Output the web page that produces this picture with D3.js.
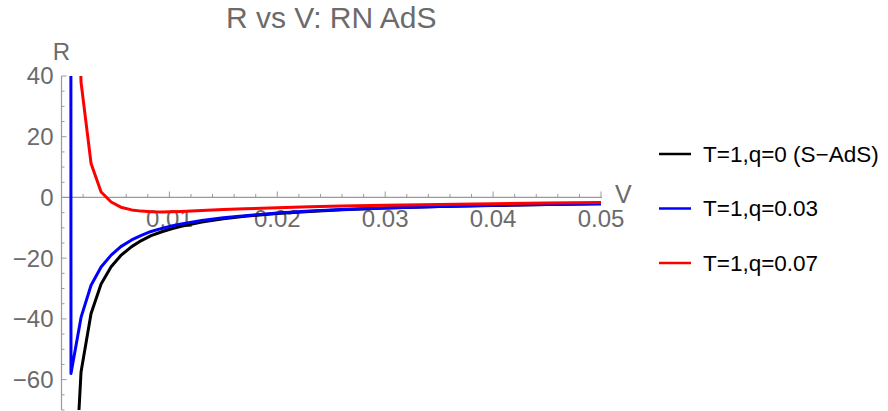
<!DOCTYPE html>
<html>
<head>
<meta charset="utf-8">
<script src="https://cdn.jsdelivr.net/npm/d3@7/dist/d3.min.js"></script>
<style>
  body { margin: 0; background: #fff; }
  svg { display: block; font-family: "Liberation Sans", Arial, sans-serif; }
</style>
</head>
<body>
<svg id="chart" width="888" height="411"></svg>
<script>
// sample volumes shared by all three curves
const volumes = [0.0004, 0.00088, 0.00181, 0.00274, 0.00367, 0.0046, 0.0055, 0.0065, 0.0074, 0.0083,
  0.0093, 0.0102, 0.0111, 0.013, 0.015, 0.017, 0.02, 0.023, 0.026, 0.03, 0.035, 0.04, 0.045, 0.05];

// R values (points outside the frame are estimates)
const rQ0 = [-262, -119, -57.5, -38.2, -28.5, -22.8, -19.1, -16.2, -14.2, -12.6,
  -11.3, -10.3, -9.5, -8.1, -7.0, -6.2, -5.3, -4.6, -4.05, -3.5, -3.0, -2.65, -2.35, -2.1];
const rQ003 = [5000, -58, -39.5, -28.9, -22.9, -19.0, -16.2, -14.0, -12.5, -11.2,
  -10.2, -9.4, -8.7, -7.6, -6.7, -6.0, -5.1, -4.5, -4.0, -3.45, -2.95, -2.6, -2.3, -2.05];
const rQ007 = [800, 160, 38, 11.2, 1.8, -1.5, -3.2, -4.1, -4.5, -4.7,
  -4.75, -4.7, -4.6, -4.3, -4.0, -3.75, -3.4, -3.1, -2.85, -2.6, -2.3, -2.05, -1.85, -1.65];

const seriesNames = ["T=1,q=0 (S\u2212AdS)", "T=1,q=0.03", "T=1,q=0.07"];
const seriesColors = ["#000000", "#0000ff", "#ff0000"];

const xTickLabels = ["0.01", "0.02", "0.03", "0.04", "0.05"];
const yTickLabels = ["40", "20", "0", "\u221220", "\u221240", "\u221260"];

const svg = d3.select("#chart");

// plot frame
const x = d3.scaleLinear().domain([0, 0.05]).range([61.5, 601]);
const y = d3.scaleLinear().domain([-70, 40]).range([410, 76]);

const axisColor = "#9a9a9a";
const labelColor = "#6b6b6b";

svg.append("defs").append("clipPath").attr("id", "plotClip")
  .append("rect")
  .attr("x", x(0)).attr("y", y(40))
  .attr("width", x(0.05) - x(0) + 2).attr("height", y(-70) - y(40));

// x axis along R = 0, ticks pointing up into the plot
const xMinor = d3.range(1, 26).map(i => i * 0.002);
const xAxisG = svg.append("g");
xAxisG.append("line")
  .attr("x1", x(0)).attr("x2", x(0.05) + 1)
  .attr("y1", y(0)).attr("y2", y(0))
  .attr("stroke", axisColor).attr("stroke-width", 1.2);
xAxisG.selectAll("line.tick")
  .data(xMinor)
  .join("line")
  .attr("class", "tick")
  .attr("x1", d => x(d)).attr("x2", d => x(d))
  .attr("y1", y(0))
  .attr("y2", (d, i) => (i + 1) % 5 === 0 ? y(0) - 6 : y(0) - 3.5)
  .attr("stroke", axisColor).attr("stroke-width", 1);
xAxisG.selectAll("text")
  .data(xTickLabels)
  .join("text")
  .attr("x", d => x(+d))
  .attr("y", y(0) + 30)
  .attr("text-anchor", "middle")
  .attr("fill", labelColor)
  .style("font-size", "24px")
  .text(d => d);

// y axis along V = 0, ticks pointing right
const yMinor = d3.range(-70, 41, 5);
const yAxisG = svg.append("g");
yAxisG.append("line")
  .attr("x1", x(0)).attr("x2", x(0))
  .attr("y1", y(40)).attr("y2", y(-70))
  .attr("stroke", axisColor).attr("stroke-width", 1.2);
yAxisG.selectAll("line.tick")
  .data(yMinor)
  .join("line")
  .attr("class", "tick")
  .attr("x1", x(0))
  .attr("x2", d => d % 20 === 0 ? x(0) + 5 : x(0) + 3)
  .attr("y1", d => y(d)).attr("y2", d => y(d))
  .attr("stroke", axisColor).attr("stroke-width", 1);
yAxisG.selectAll("text")
  .data(yTickLabels)
  .join("text")
  .attr("x", x(0) - 8)
  .attr("y", d => y(+d.replace("\u2212", "-")))
  .attr("dy", "0.35em")
  .attr("text-anchor", "end")
  .attr("fill", labelColor)
  .style("font-size", "24px")
  .text(d => d);

// axis names and title
svg.append("text")
  .attr("x", x(0)).attr("y", 60)
  .attr("text-anchor", "middle")
  .attr("fill", labelColor)
  .style("font-size", "24px")
  .text("R");
svg.append("text")
  .attr("x", x(0.05) + 14).attr("y", y(0) + 6)
  .attr("fill", labelColor)
  .style("font-size", "25px")
  .text("V");
svg.append("text")
  .attr("x", (x(0) + x(0.05)) / 2).attr("y", 28)
  .attr("text-anchor", "middle")
  .attr("fill", labelColor)
  .style("font-size", "30px")
  .text("R vs V: RN AdS");

// the three curves, drawn in order black, blue, red
const line = d3.line()
  .x(d => x(d[0]))
  .y(d => y(d[1]));

const allSeries = [rQ0, rQ003, rQ007];
svg.append("g")
  .attr("clip-path", "url(#plotClip)")
  .selectAll("path")
  .data(allSeries)
  .join("path")
  .attr("d", vals => line(volumes.map((v, i) => [v, vals[i]])))
  .attr("fill", "none")
  .attr("stroke", (d, i) => seriesColors[i])
  .attr("stroke-width", 3)
  .attr("stroke-linejoin", "round");

// legend on the right
const legend = svg.append("g")
  .selectAll("g")
  .data(seriesNames)
  .join("g")
  .attr("transform", (d, i) => `translate(659, ${154 + i * 54.5})`);
legend.append("line")
  .attr("x1", 0).attr("x2", 32)
  .attr("stroke", (d, i) => seriesColors[i])
  .attr("stroke-width", 2.5);
legend.append("text")
  .attr("x", 44).attr("dy", "0.35em")
  .attr("fill", "#000")
  .style("font-size", "22.5px")
  .text(d => d);
</script>
</body>
</html>
